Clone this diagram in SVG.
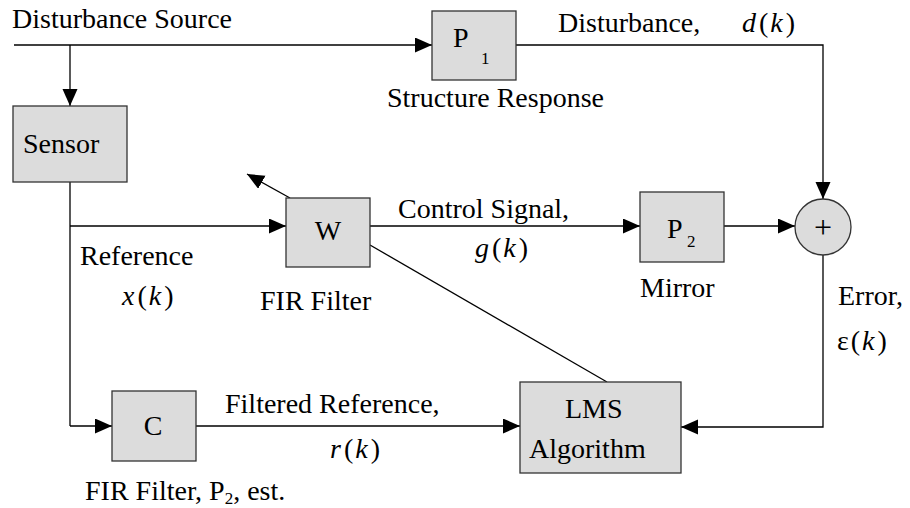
<svg xmlns="http://www.w3.org/2000/svg" width="910" height="508" viewBox="0 0 910 508" font-family="'Liberation Serif','Times New Roman','DejaVu Serif',serif">
<style>
text{font-family:"Liberation Serif","Times New Roman","DejaVu Serif",serif;font-size:28px;fill:#000}
.box{fill:#dcdcdc;stroke:#333;stroke-width:1.3}
.ln{fill:none;stroke:#000;stroke-width:1.3}
.i{font-style:italic}
.sub{font-size:17px}
</style>
<defs>
<marker id="ah" markerUnits="userSpaceOnUse" markerWidth="18" markerHeight="16" refX="17" refY="7.5" orient="auto">
<path d="M0,0 L17,7.5 L0,15 z" fill="#000"/>
</marker>
</defs>
<g id="connectors">
<line class="ln" x1="14" y1="45" x2="432" y2="45" marker-end="url(#ah)"/>
<line class="ln" x1="70" y1="45" x2="70" y2="106" marker-end="url(#ah)"/>
<polyline class="ln" points="516,45 823,45 823,199" marker-end="url(#ah)"/>
<line class="ln" x1="70" y1="182" x2="70" y2="426"/>
<line class="ln" x1="70" y1="226" x2="286" y2="226" marker-end="url(#ah)"/>
<line class="ln" x1="70" y1="426" x2="112" y2="426" marker-end="url(#ah)"/>
<line class="ln" x1="290" y1="198" x2="247" y2="174" marker-end="url(#ah)"/>
<line class="ln" x1="370" y1="226" x2="640" y2="226" marker-end="url(#ah)"/>
<line class="ln" x1="724" y1="226" x2="795" y2="226" marker-end="url(#ah)"/>
<line class="ln" x1="370" y1="245" x2="607" y2="382"/>
<line class="ln" x1="196" y1="426" x2="520" y2="426" marker-end="url(#ah)"/>
<polyline class="ln" points="823,255 823,427 681,427" marker-end="url(#ah)"/>
</g>
<g id="labels">
<text x="12" y="28">Disturbance Source</text>
<text x="558" y="32">Disturbance,</text>
<text x="742" y="32"><tspan class="i">d</tspan><tspan dx="3">(</tspan><tspan class="i" dx="2">k</tspan><tspan dx="3">)</tspan></text>
<text x="387" y="107">Structure Response</text>
<text x="80" y="265">Reference</text>
<text x="122" y="305"><tspan class="i">x</tspan><tspan dx="3">(</tspan><tspan class="i" dx="2">k</tspan><tspan dx="3">)</tspan></text>
<text x="260" y="310">FIR Filter</text>
<text x="398" y="218">Control Signal,</text>
<text x="475" y="257"><tspan class="i">g</tspan><tspan dx="3">(</tspan><tspan class="i" dx="2">k</tspan><tspan dx="3">)</tspan></text>
<text x="640" y="297">Mirror</text>
<text x="838" y="305">Error,</text>
<text x="837" y="350">ε<tspan dx="2">(</tspan><tspan class="i" dx="2">k</tspan><tspan dx="3">)</tspan></text>
<text x="225" y="413">Filtered Reference,</text>
<text x="330" y="458"><tspan class="i">r</tspan><tspan dx="3">(</tspan><tspan class="i" dx="2">k</tspan><tspan dx="3">)</tspan></text>
<text x="85" y="500">FIR Filter, P<tspan class="sub" dy="4">2</tspan><tspan dy="-4">, est.</tspan></text>
</g>
<g id="sensor">
<rect class="box" x="13" y="106" width="114" height="76"/>
<text x="23" y="153">Sensor</text>
</g>
<g id="P1">
<rect class="box" x="432" y="11" width="84" height="69"/>
<text x="453" y="47">P</text>
<text class="sub" x="481" y="64">1</text>
</g>
<g id="W">
<rect class="box" x="286" y="198" width="84" height="69"/>
<text x="328" y="240" text-anchor="middle">W</text>
</g>
<g id="P2">
<rect class="box" x="640" y="192" width="84" height="70"/>
<text x="667" y="238">P</text>
<text class="sub" x="687" y="247">2</text>
</g>
<g id="sum">
<circle cx="823" cy="227" r="28" fill="#dcdcdc" stroke="#333" stroke-width="1.3"/>
<text x="823" y="238" text-anchor="middle" style="font-size:32px">+</text>
</g>
<g id="C">
<rect class="box" x="112" y="391" width="84" height="70"/>
<text x="153" y="435" text-anchor="middle">C</text>
</g>
<g id="LMS">
<rect class="box" x="520" y="382" width="161" height="91"/>
<text x="565" y="418">LMS</text>
<text x="529" y="458">Algorithm</text>
</g>
</svg>
